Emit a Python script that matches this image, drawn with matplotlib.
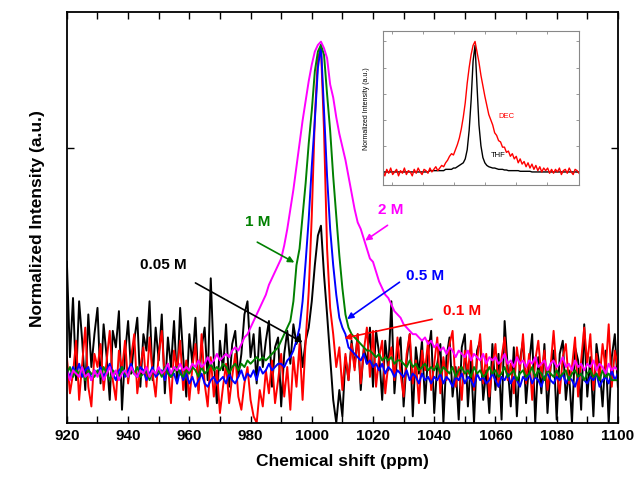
# NMR spectra at different concentrations, with DEC/THF inset
import numpy as np
import matplotlib.pyplot as plt

plt.rcParams['font.family'] = ['Liberation Sans', 'DejaVu Sans']

# chemical shift grid (ppm), one point per ppm
shift = np.arange(920, 1101)

# normalized intensities, 920..1100 ppm
black_005 = [
    0.34, 0.05, 0.23, -0.02, 0.22, 0.10, -0.05, 0.18, 0.02, 0.12,
    0.20, -0.03, 0.15, 0.05, -0.08, 0.13, 0.08, 0.19, -0.11, 0.06,
    0.16, 0.00, 0.10, 0.17, -0.04, 0.12, 0.07, 0.22, -0.02, 0.14,
    0.04, 0.18, -0.06, 0.11, 0.02, 0.16, -0.03, 0.20, 0.05, -0.07,
    0.12, 0.03, 0.17, -0.05, 0.08, 0.14, -0.02, 0.29, 0.04, -0.09,
    0.10, 0.01, 0.15, -0.04, 0.09, 0.13, -0.01, 0.06, 0.18, 0.22,
    0.05, 0.12, -0.03, 0.14, 0.02, 0.10, 0.16, -0.04, 0.08, 0.11,
    -0.10, 0.06, 0.13, 0.03, 0.15, 0.09, 0.12, 0.02, 0.10, 0.14,
    0.22, 0.33, 0.42, 0.45, 0.30, 0.18, 0.05, -0.08, -0.15, -0.05,
    -0.13, 0.05, -0.02, 0.10, 0.02, 0.12, -0.05, 0.08, 0.03, 0.14,
    -0.04, 0.13, 0.06, -0.08, 0.10, 0.01, 0.22, -0.06, 0.07, 0.11,
    -0.10, 0.04, 0.12, -0.13, 0.08, 0.00, 0.10, -0.09, 0.06, 0.13,
    -0.12, 0.03, 0.09, -0.15, 0.05, 0.11, -0.07, 0.02, -0.14, 0.08,
    0.12, -0.10, 0.04, -0.15, 0.07, 0.10, -0.08, 0.01, -0.12, 0.09,
    -0.05, 0.06, -0.14, 0.16, 0.02, -0.10, 0.08, -0.13, 0.04, 0.10,
    -0.09, 0.03, 0.12, -0.15, 0.05, -0.06, 0.09, -0.12, 0.02, 0.07,
    -0.14, 0.06, 0.10, -0.08, 0.01, -0.15, 0.08, 0.04, -0.11, 0.15,
    -0.07, 0.05, -0.13, 0.09, 0.02, -0.10, 0.07, -0.15, 0.05, 0.12,
    -0.04]

red_01 = [
    0.05, -0.06, 0.00, 0.10, -0.08, 0.03, 0.14, -0.04, -0.10, 0.06,
    0.02, 0.09, -0.05, 0.04, 0.13, -0.02, -0.08, 0.07, 0.01, 0.10,
    -0.03, 0.05, 0.12, -0.06, 0.02, 0.08, -0.04, 0.11, 0.00, -0.07,
    0.06, 0.13, -0.02, 0.03, -0.09, 0.07, 0.01, 0.10, -0.05, 0.04,
    -0.08, 0.02, 0.09, -0.06, 0.12, -0.03, -0.10, 0.05, -0.07, 0.01,
    -0.12, -0.04, 0.03, -0.09, -0.01, 0.06, -0.07, -0.11, -0.03, 0.02,
    -0.08, -0.13, -0.15, -0.05, -0.10, 0.01, -0.06, 0.04, -0.09, -0.02,
    0.06, -0.07, 0.02, -0.11, 0.05, -0.04, 0.09, -0.08, 0.10, 0.25,
    0.48, 0.78, 0.96, 0.99, 0.74, 0.38, 0.20, 0.12, 0.02, 0.08,
    -0.05, 0.06, -0.02, 0.09, 0.01, 0.12, -0.03, 0.07, 0.14, -0.01,
    0.13, -0.04, 0.05, 0.10, -0.06, 0.03, 0.08, -0.02, 0.11, 0.00,
    -0.07, 0.06, 0.12, -0.03, 0.04, -0.09, 0.07, 0.01, 0.10, -0.05,
    0.03, 0.11, -0.06, 0.05, -0.02, 0.09, 0.13, -0.04, 0.02, -0.08,
    0.07, 0.00, 0.10, -0.05, 0.04, 0.12, -0.03, 0.06, -0.07, 0.02,
    0.09, -0.04, 0.05, 0.11, -0.02, 0.03, -0.06, 0.08, 0.01, 0.12,
    -0.03, 0.06, -0.08, 0.04, 0.10, -0.01, 0.07, -0.05, 0.02, 0.13,
    0.00, -0.06, 0.05, 0.09, -0.03, 0.02, 0.11, -0.07, 0.04, 0.14,
    0.03, 0.12, -0.05, 0.06, -0.02, 0.09, 0.01, 0.15, -0.04, 0.07,
    0.02]

blue_05 = [
    0.01, -0.01, 0.02, 0.00, 0.03, -0.01, 0.01, 0.02, -0.02, 0.01,
    0.00, 0.02, -0.01, 0.01, 0.03, 0.00, -0.02, 0.01, 0.02, -0.01,
    0.01, 0.03, 0.00, -0.01, 0.02, 0.01, -0.02, 0.00, 0.02, -0.01,
    0.00, 0.01, -0.02, 0.02, -0.01, 0.00, -0.03, 0.01, -0.02, 0.00,
    -0.03, -0.01, -0.04, -0.02, 0.00, -0.03, -0.04, -0.02, -0.01, -0.03,
    -0.02, -0.01, -0.03, 0.00, -0.02, -0.03, -0.01, 0.01, -0.02, 0.00,
    -0.01, 0.01, -0.02, 0.02, 0.00, 0.01, 0.03, 0.01, 0.02, 0.03,
    0.03, 0.02, 0.04, 0.05, 0.07, 0.10, 0.14, 0.22, 0.34, 0.47,
    0.63, 0.77, 0.93, 1.00, 0.80, 0.60, 0.44, 0.33, 0.24, 0.17,
    0.14, 0.12, 0.08, 0.07, 0.06, 0.05, 0.04, 0.06, 0.03, 0.04,
    0.02, 0.03, 0.01, 0.03, 0.00, 0.02, 0.01, -0.01, 0.01, 0.00,
    -0.01, 0.01, -0.02, 0.00, -0.01, -0.03, 0.00, -0.02, -0.01, -0.03,
    -0.01, -0.02, 0.00, -0.03, -0.01, -0.02, -0.04, -0.01, -0.02, 0.00,
    -0.03, -0.01, -0.02, -0.04, 0.00, -0.02, -0.01, -0.03, -0.02, 0.00,
    -0.02, -0.04, -0.01, -0.02, 0.00, -0.03, -0.01, -0.02, -0.04, -0.01,
    -0.02, 0.00, -0.03, -0.01, -0.02, -0.04, -0.01, 0.00, -0.02, -0.03,
    -0.01, -0.02, 0.00, -0.03, -0.01, -0.02, -0.04, -0.01, 0.00, -0.02,
    -0.03, -0.01, -0.02, 0.00, -0.04, -0.02, -0.01, -0.03, 0.01, -0.02,
    0.00]

green_1 = [
    0.00, 0.02, -0.01, 0.01, 0.00, 0.02, -0.02, 0.01, 0.00, -0.01,
    0.01, -0.01, 0.02, 0.00, -0.02, 0.01, 0.00, -0.01, 0.02, 0.00,
    -0.01, 0.01, 0.00, 0.02, -0.01, 0.00, 0.01, -0.02, 0.01, 0.00,
    0.01, -0.01, 0.02, 0.00, -0.01, 0.01, 0.02, 0.00, -0.01, 0.01,
    0.00, 0.02, 0.01, -0.01, 0.02, 0.00, 0.01, 0.03, 0.01, 0.02,
    0.01, 0.03, 0.02, 0.00, 0.02, 0.03, 0.01, 0.03, 0.02, 0.04,
    0.03, 0.04, 0.05, 0.04, 0.05, 0.04, 0.05, 0.06, 0.07, 0.08,
    0.10, 0.12, 0.14, 0.16, 0.22, 0.33, 0.38, 0.48, 0.58, 0.70,
    0.80, 0.92, 0.98, 1.00, 0.97, 0.85, 0.74, 0.60, 0.48, 0.36,
    0.26, 0.18, 0.14, 0.12, 0.11, 0.10, 0.09, 0.08, 0.07, 0.07,
    0.06, 0.05, 0.06, 0.04, 0.05, 0.04, 0.05, 0.03, 0.04, 0.04,
    0.03, 0.02, 0.04, 0.02, 0.03, 0.01, 0.02, 0.03, 0.01, 0.02,
    0.01, 0.03, 0.00, 0.02, 0.01, 0.00, 0.02, -0.01, 0.01, 0.02,
    0.00, 0.01, -0.01, 0.02, 0.00, 0.01, -0.01, 0.00, 0.02, 0.00,
    0.01, -0.01, 0.00, 0.02, -0.01, 0.00, 0.01, -0.02, 0.00, 0.01,
    -0.01, 0.00, 0.02, -0.01, 0.01, 0.00, -0.02, 0.01, 0.00, -0.01,
    0.01, -0.01, 0.00, 0.01, -0.02, 0.00, 0.01, -0.01, 0.00, -0.02,
    0.00, 0.01, -0.01, 0.00, -0.02, 0.01, -0.01, 0.00, -0.02, -0.02,
    -0.02]

magenta_2 = [
    0.01, -0.02, 0.01, 0.00, -0.01, 0.02, -0.01, 0.00, -0.02, 0.01,
    -0.01, 0.01, -0.02, 0.00, 0.02, -0.01, 0.01, -0.02, 0.00, 0.01,
    -0.01, 0.02, 0.00, -0.01, 0.01, 0.00, 0.02, -0.01, 0.01, 0.00,
    0.02, 0.00, 0.01, 0.03, 0.00, 0.02, 0.01, 0.03, 0.01, 0.02,
    0.01, 0.03, 0.02, 0.04, 0.02, 0.03, 0.05, 0.03, 0.04, 0.06,
    0.04, 0.05, 0.06, 0.05, 0.07, 0.08, 0.07, 0.09, 0.11, 0.12,
    0.14, 0.16, 0.18, 0.20, 0.22, 0.24, 0.27, 0.29, 0.31, 0.33,
    0.35, 0.39, 0.44, 0.50, 0.56, 0.63, 0.70, 0.77, 0.83, 0.89,
    0.94, 0.98, 1.00, 1.01, 0.99, 0.96, 0.88, 0.84, 0.78, 0.73,
    0.69, 0.65, 0.60, 0.55, 0.50, 0.46, 0.44, 0.41, 0.38, 0.35,
    0.34, 0.31, 0.28, 0.26, 0.24, 0.23, 0.21, 0.19, 0.18, 0.17,
    0.15, 0.14, 0.13, 0.12, 0.12, 0.11, 0.10, 0.11, 0.09, 0.10,
    0.08, 0.09, 0.07, 0.08, 0.06, 0.08, 0.07, 0.05, 0.07, 0.06,
    0.05, 0.07, 0.04, 0.06, 0.05, 0.04, 0.06, 0.03, 0.05, 0.04,
    0.05, 0.03, 0.04, 0.06, 0.03, 0.04, 0.02, 0.05, 0.03, 0.04,
    0.02, 0.04, 0.03, 0.05, 0.02, 0.03, 0.04, 0.01, 0.03, 0.04,
    0.02, 0.03, 0.05, 0.02, 0.03, 0.01, 0.04, 0.02, 0.03, 0.01,
    0.03, 0.02, 0.04, 0.01, 0.03, 0.02, 0.00, 0.03, 0.01, 0.02,
    0.01]

# inset: DEC vs THF, arbitrary x units 0..100
inset_x = np.arange(0, 101)
dec = [
    0.01, -0.03, 0.02, -0.01, 0.03, -0.02, 0.00, 0.02, -0.03, 0.01,
    -0.01, 0.03, -0.02, 0.01, 0.00, -0.03, 0.02, -0.01, 0.03, 0.00,
    -0.02, 0.02, 0.01, -0.01, 0.03, 0.00, 0.02, 0.04, 0.01, 0.03,
    0.05, 0.04, 0.07, 0.09, 0.12, 0.14, 0.13, 0.17, 0.21, 0.26,
    0.33, 0.42, 0.53, 0.68, 0.80, 0.90, 0.97, 1.00, 0.92, 0.84,
    0.74, 0.66, 0.58, 0.51, 0.44, 0.40, 0.36, 0.30, 0.28, 0.24,
    0.23, 0.19, 0.19, 0.15, 0.16, 0.12, 0.14, 0.10, 0.12, 0.07,
    0.10, 0.06, 0.08, 0.04, 0.07, 0.03, 0.06, 0.02, 0.05, 0.01,
    0.04, 0.00, 0.03, 0.01, 0.03, -0.01, 0.02, -0.01, 0.02, 0.00,
    0.03, -0.02, 0.01, 0.02, -0.01, 0.03, 0.00, -0.02, 0.02, 0.01,
    -0.01]
thf = [
    0.00, 0.00, 0.00, 0.00, 0.00, 0.00, 0.00, 0.00, 0.00, 0.00,
    0.00, 0.00, 0.00, 0.00, 0.00, 0.00, 0.00, 0.00, 0.00, 0.00,
    0.00, 0.00, 0.00, 0.00, 0.01, 0.01, 0.01, 0.01, 0.01, 0.01,
    0.01, 0.01, 0.02, 0.02, 0.02, 0.02, 0.03, 0.03, 0.04, 0.05,
    0.06, 0.07, 0.10, 0.17, 0.32, 0.55, 0.85, 0.97, 0.66, 0.36,
    0.20, 0.11, 0.07, 0.05, 0.04, 0.035, 0.03, 0.03, 0.025, 0.02,
    0.02, 0.02, 0.015, 0.015, 0.01, 0.01, 0.01, 0.01, 0.01, 0.01,
    0.005, 0.005, 0.005, 0.005, 0.005, 0.005, 0.00, 0.00, 0.00, 0.00,
    0.00, 0.00, 0.00, 0.00, 0.00, 0.00, 0.00, 0.00, 0.00, 0.00,
    0.00, 0.00, 0.00, 0.00, 0.00, 0.00, 0.00, 0.00, 0.00, 0.00,
    0.00]

fig = plt.figure(figsize=(6.37, 4.85), dpi=100)
ax = fig.add_axes([0.105, 0.126, 0.865, 0.847])

ax.plot(shift, black_005, color='black', lw=1.4)
ax.plot(shift, red_01, color='red', lw=1.4)
ax.plot(shift, blue_05, color='blue', lw=1.4)
ax.plot(shift, green_1, color='green', lw=1.4)
ax.plot(shift, magenta_2, color='magenta', lw=1.4)

ax.set_xlim(920, 1100)
ax.set_ylim(-0.15, 1.1)
ax.set_xticks(np.arange(920, 1101, 20))
ax.set_xticks(np.arange(930, 1100, 20), minor=True)
ax.set_yticks([0.686])
ax.set_yticklabels([])
ax.tick_params(which='both', direction='in', top=True, right=True,
               length=5, width=1, labelsize=11)
for lab in ax.get_xticklabels():
    lab.set_fontweight('bold')
for s in ax.spines.values():
    s.set_linewidth(1.3)

ax.set_xlabel('Chemical shift (ppm)', fontsize=12.5, fontweight='bold', labelpad=8)
ax.set_ylabel('Normalized Intensity (a.u.)', fontsize=12.5, fontweight='bold', labelpad=12)

# labels with arrows
arrow = dict(arrowstyle='-|>', lw=1.2, mutation_scale=9)
ax.text(982.4, 0.465, '1 M', color='green', fontsize=11, fontweight='bold', ha='center', va='center')
ax.annotate('', xy=(995.1, 0.334), xytext=(981.4, 0.404),
            arrowprops=dict(arrow, color='green'))
ax.text(1025.8, 0.50, '2 M', color='magenta', fontsize=11, fontweight='bold', ha='center', va='center')
ax.annotate('', xy=(1016.7, 0.40), xytext=(1025.5, 0.456),
            arrowprops=dict(arrow, color='magenta'))
ax.text(951.4, 0.334, '0.05 M', color='black', fontsize=11, fontweight='bold', ha='center', va='center')
ax.annotate('', xy=(997.8, 0.091), xytext=(961.2, 0.28),
            arrowprops=dict(arrow, color='black'))
ax.text(1037, 0.30, '0.5 M', color='blue', fontsize=11, fontweight='bold', ha='center', va='center')
ax.annotate('', xy=(1010.8, 0.161), xytext=(1029.4, 0.283),
            arrowprops=dict(arrow, color='blue'))
ax.text(1049, 0.195, '0.1 M', color='red', fontsize=11, fontweight='bold', ha='center', va='center')
ax.annotate('', xy=(1009.8, 0.106), xytext=(1040.2, 0.167),
            arrowprops=dict(arrow, color='red'))

# inset
ins = fig.add_axes([0.601, 0.6165, 0.308, 0.3175])
ins.plot(inset_x, thf, color='black', lw=1)
ins.plot(inset_x, dec, color='red', lw=1)
ins.set_xlim(0, 100)
ins.set_ylim(-0.1, 1.08)
ins.set_xticks(np.linspace(4.6, 83.6, 6))
ins.set_yticks([0, 0.2, 0.4, 0.6, 0.8, 1.0])
ins.set_xticklabels([])
ins.set_yticklabels([])
ins.tick_params(direction='in', top=True, right=True, length=2.5,
                width=0.6, colors='#888888')
for s in ins.spines.values():
    s.set_color('#888888')
    s.set_linewidth(0.8)
ins.set_ylabel('Normalized Intensity (a.u.)', fontsize=5, labelpad=6)
ins.text(59, 0.42, 'DEC', color='red', fontsize=5.5)
ins.text(55, 0.12, 'THF', color='black', fontsize=5.5)

fig.savefig('out.png', dpi=100)
